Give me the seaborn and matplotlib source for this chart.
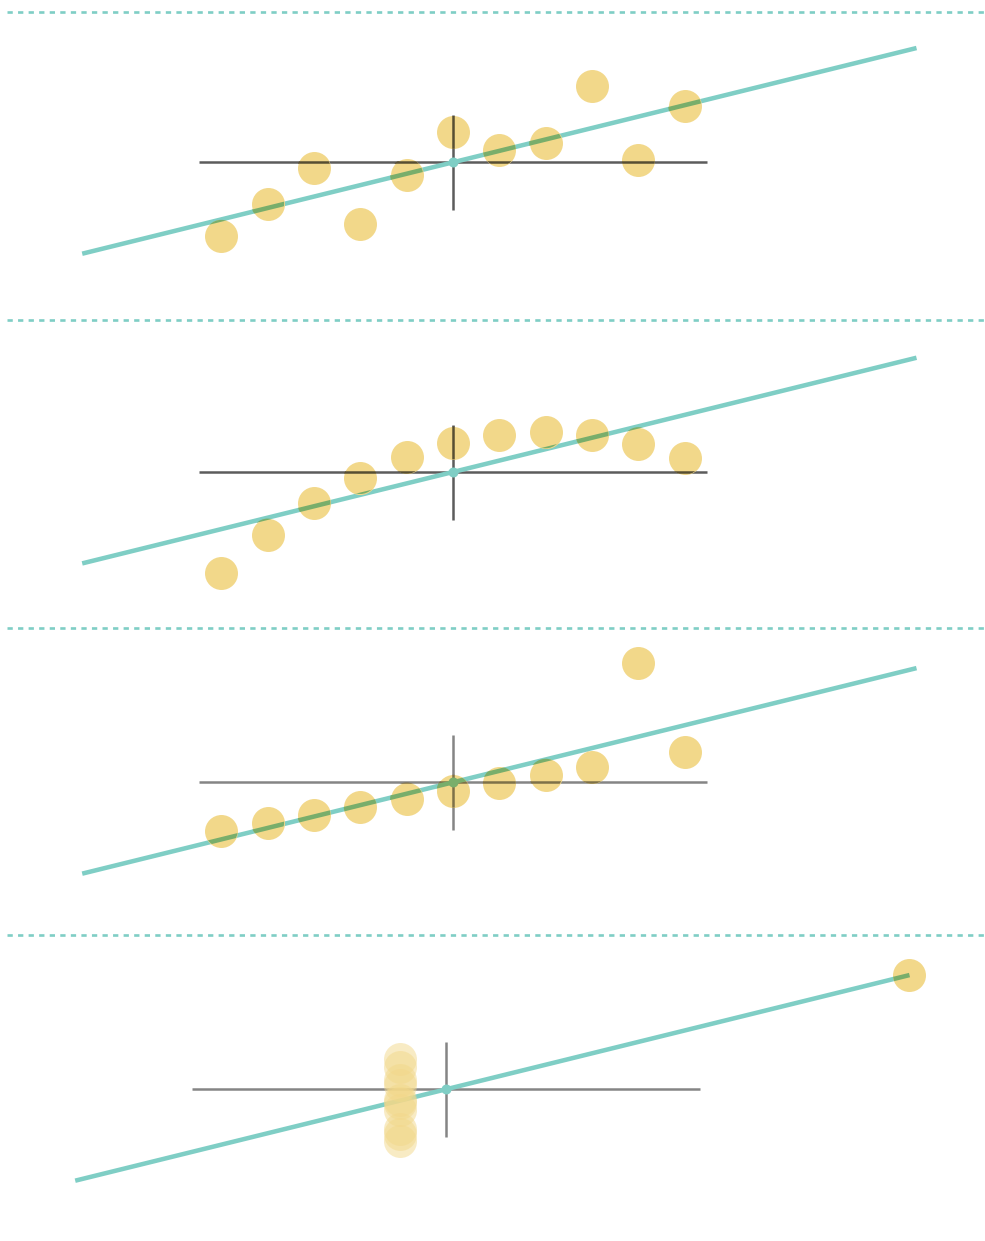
import numpy as np
import pandas as pd
import matplotlib
matplotlib.use("Agg")
import matplotlib.pyplot as plt
import seaborn as sns
from matplotlib.colors import to_rgb
from matplotlib.patches import Circle
from matplotlib.transforms import IdentityTransform

sns.set_theme(style="white")

# ---- data (Anscombe's quartet) ----
x_1 = [10, 8, 13, 9, 11, 14, 6, 4, 12, 7, 5]
y_1 = [8.04, 6.95, 7.58, 8.81, 8.33, 9.96, 7.24, 4.26, 10.84, 4.82, 5.68]
x_2 = [10, 8, 13, 9, 11, 14, 6, 4, 12, 7, 5]
y_2 = [9.14, 8.14, 8.74, 8.77, 9.26, 8.10, 6.13, 3.10, 9.13, 7.26, 4.74]
x_3 = [10, 8, 13, 9, 11, 14, 6, 4, 12, 7, 5]
y_3 = [7.46, 6.77, 12.74, 7.11, 7.81, 8.84, 6.08, 5.39, 8.15, 6.42, 5.73]
x_4 = [8, 8, 8, 8, 8, 8, 8, 19, 8, 8, 8]
y_4 = [6.58, 5.76, 7.71, 8.84, 8.47, 7.04, 5.25, 12.50, 5.56, 7.91, 6.89]
datasets = [(x_1, y_1), (x_2, y_2), (x_3, y_3), (x_4, y_4)]

# ---- styles / layout ----
W, H = 985, 1241
PX_X, PX_Y = 46.35, 22.85          # pixels per data unit
LINE_X = (1, 19)                    # extent of the regression line
band_tops = [12, 320, 628, 935]
centers = [(453, 162.3), (453, 472.0), (453, 782.3), (446, 1089.3)]
cross_colors = ["#5c5c5c", "#5c5c5c", "#858585", "#858585"]
TEAL = "#7FCEC5"
YELLOW = "#F2D88A"
PT_R = 16.5                          # point radius, px
CROSS_HX, CROSS_HY = 254, 47.5       # crosshair half lengths, px


def mult(c1, c2):
    a, b = to_rgb(c1), to_rgb(c2)
    return tuple(p * q for p, q in zip(a, b))


fig = plt.figure(figsize=(W / 100, H / 100), dpi=100)
fig.patch.set_facecolor("white")

for i, (xs, ys) in enumerate(datasets):
    top = band_tops[i]
    bottom = band_tops[i + 1] if i < 3 else H
    h = bottom - top
    cx, cy = centers[i]
    x = np.asarray(xs, float)
    y = np.asarray(ys, float)
    mx, my = x.mean(), y.mean()

    ax = fig.add_axes([0, 1 - (top + h) / H, 1, h / H])
    ax.set_axis_off()
    ax.set_xlim(mx - cx / PX_X, mx + (W - cx) / PX_X)
    ymax = my + (cy - top) / PX_Y
    ax.set_ylim(ymax - h / PX_Y, ymax)

    # dotted separator at the top of the band
    ax.plot([7 / W, 1], [1, 1], transform=ax.transAxes, color=TEAL, lw=1.9,
            linestyle=(0, (2.0, 2.0)), clip_on=False, zorder=1)

    gray = cross_colors[i]
    base = []
    hx = CROSS_HX / PX_X
    hy = CROSS_HY / PX_Y
    base.append(dict(xd=[mx - hx, mx + hx], yd=[my, my], color=gray, lw=1.8, z=2, marker=None))
    base.append(dict(xd=[mx, mx], yd=[my - hy, my + hy], color=gray, lw=1.8, z=2, marker=None))
    slope, intercept = np.polyfit(x, y, 1)
    lx = np.array(LINE_X, float)
    base.append(dict(xd=lx, yd=intercept + slope * lx, color=TEAL, lw=3.25, z=3, marker=None))
    base.append(dict(xd=[mx], yd=[my], color=TEAL, lw=0, z=4, marker="o"))

    for b in base:
        if b["marker"]:
            ax.plot(b["xd"], b["yd"], "o", ms=7.2, color=b["color"], mec="none", zorder=b["z"])
        else:
            ax.plot(b["xd"], b["yd"], color=b["color"], lw=b["lw"],
                    solid_capstyle="butt", zorder=b["z"])

    df = pd.DataFrame({"x": x, "y": y})
    dup = df["x"].duplicated(keep=False)
    solid = df[~dup]
    faint = df[dup]
    if len(faint):
        sns.scatterplot(data=faint, x="x", y="y", ax=ax, s=564, color=YELLOW,
                        linewidth=0, alpha=0.5, zorder=5, legend=False)
    sns.scatterplot(data=solid, x="x", y="y", ax=ax, s=564, color=YELLOW,
                    linewidth=0, zorder=5, legend=False)
    ax.set_xlabel("")
    ax.set_ylabel("")
    ax.set_axis_off()

    # emulate multiply blending where lines pass through opaque points
    for px, py in solid[["x", "y"]].to_numpy():
        cdisp = ax.transData.transform((px, py))
        for b in base:
            clip = Circle(cdisp, PT_R, transform=IdentityTransform())
            col = mult(b["color"], YELLOW)
            if b["marker"]:
                ln, = ax.plot(b["xd"], b["yd"], "o", ms=7.2, color=col, mec="none",
                              zorder=6 + b["z"])
            else:
                ln, = ax.plot(b["xd"], b["yd"], color=col, lw=b["lw"],
                              solid_capstyle="butt", zorder=6 + b["z"])
            ln.set_clip_path(clip)

fig.savefig("out.png", dpi=100, facecolor="white")
